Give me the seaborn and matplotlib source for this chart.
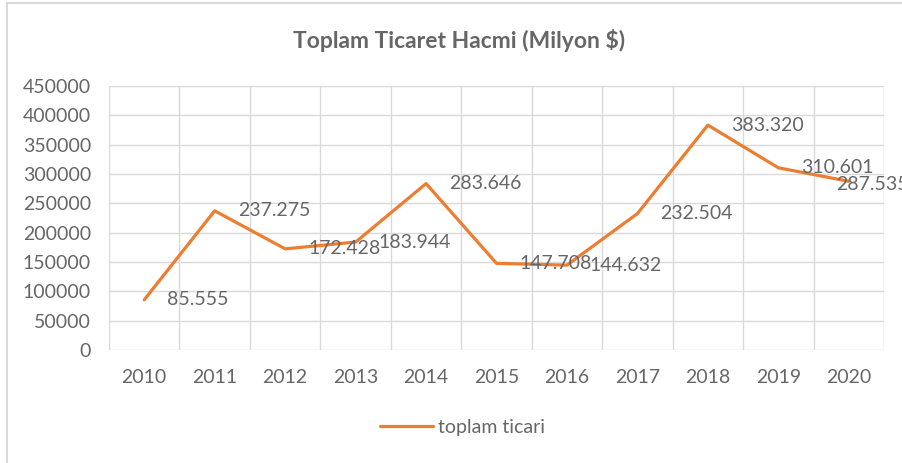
import matplotlib.pyplot as plt
import pandas as pd
import seaborn as sns
from matplotlib.lines import Line2D

# Data
years = ['2010', '2011', '2012', '2013', '2014', '2015', '2016', '2017', '2018', '2019', '2020']
toplam = [85555, 237275, 172428, 183944, 283646, 147708, 144632, 232504, 383320, 310601, 287535]
y_ticks = [0, 50000, 100000, 150000, 200000, 250000, 300000, 350000, 400000, 450000]

df = pd.DataFrame({'Yil': years, 'toplam ticari': toplam})

sns.set_theme(style='white')
plt.rcParams['font.family'] = ['Lato', 'DejaVu Sans']

grey_txt = '#666666'
grid_c = '#D9D9D9'
orange = '#ED7D31'

fig = plt.figure(figsize=(9.02, 4.63), dpi=100)
ax = fig.add_axes([109 / 902, 1 - 350 / 463, (884 - 109) / 902, (350 - 86) / 463])

sns.lineplot(data=df, x='Yil', y='toplam ticari', ax=ax, color=orange,
             linewidth=2.3, sort=False, legend=False)

# Excel-style gridlines: horizontal at ticks, vertical between categories
ax.set_xlim(-0.5, len(years) - 0.5)
ax.set_ylim(0, 450000)
ax.set_yticks(y_ticks)
ax.set_yticklabels([str(v) for v in y_ticks])
for v in y_ticks:
    ax.axhline(v, color=grid_c, lw=1.0, zorder=0)
for k in range(len(years) + 1):
    ax.axvline(k - 0.5, color=grid_c, lw=1.0, zorder=0)
for s in ax.spines.values():
    s.set_visible(False)

ax.tick_params(axis='both', length=0, labelsize=14, colors=grey_txt)
ax.tick_params(axis='x', pad=14)
ax.tick_params(axis='y', pad=13)
ax.set_xlabel('')
ax.set_ylabel('')

# Data labels (Turkish thousands separator)
for i, v in enumerate(toplam):
    txt = f"{v:,}".replace(',', '.')
    dx = 23 if i < len(toplam) - 1 else -13
    dy = 0 if i < len(toplam) - 1 else -3
    ax.annotate(txt, (i, v), xytext=(dx, dy), textcoords='offset pixels',
                ha='left', va='center', fontsize=14, color=grey_txt,
                annotation_clip=False)

fig.text(0.509, 1 - 40 / 463, 'Toplam Ticaret Hacmi (Milyon $)', ha='center', va='center',
         fontsize=16.5, fontweight='bold', color=grey_txt)

handle = Line2D([], [], color=orange, lw=2.3)
fig.legend([handle], ['toplam ticari'], loc='center', bbox_to_anchor=(0.513, 1 - 427 / 463),
           frameon=False, fontsize=14, labelcolor=grey_txt, handlelength=2.7, handletextpad=0.3)

# outer chart border (top and left visible)
fig.add_artist(Line2D([7 / 902, 7 / 902], [0, 1 - 3 / 463], transform=fig.transFigure,
                      color=grid_c, lw=1.5))
fig.add_artist(Line2D([7 / 902, 1], [1 - 3 / 463, 1 - 3 / 463], transform=fig.transFigure,
                      color=grid_c, lw=1.5))

fig.savefig('out.png', dpi=100)
